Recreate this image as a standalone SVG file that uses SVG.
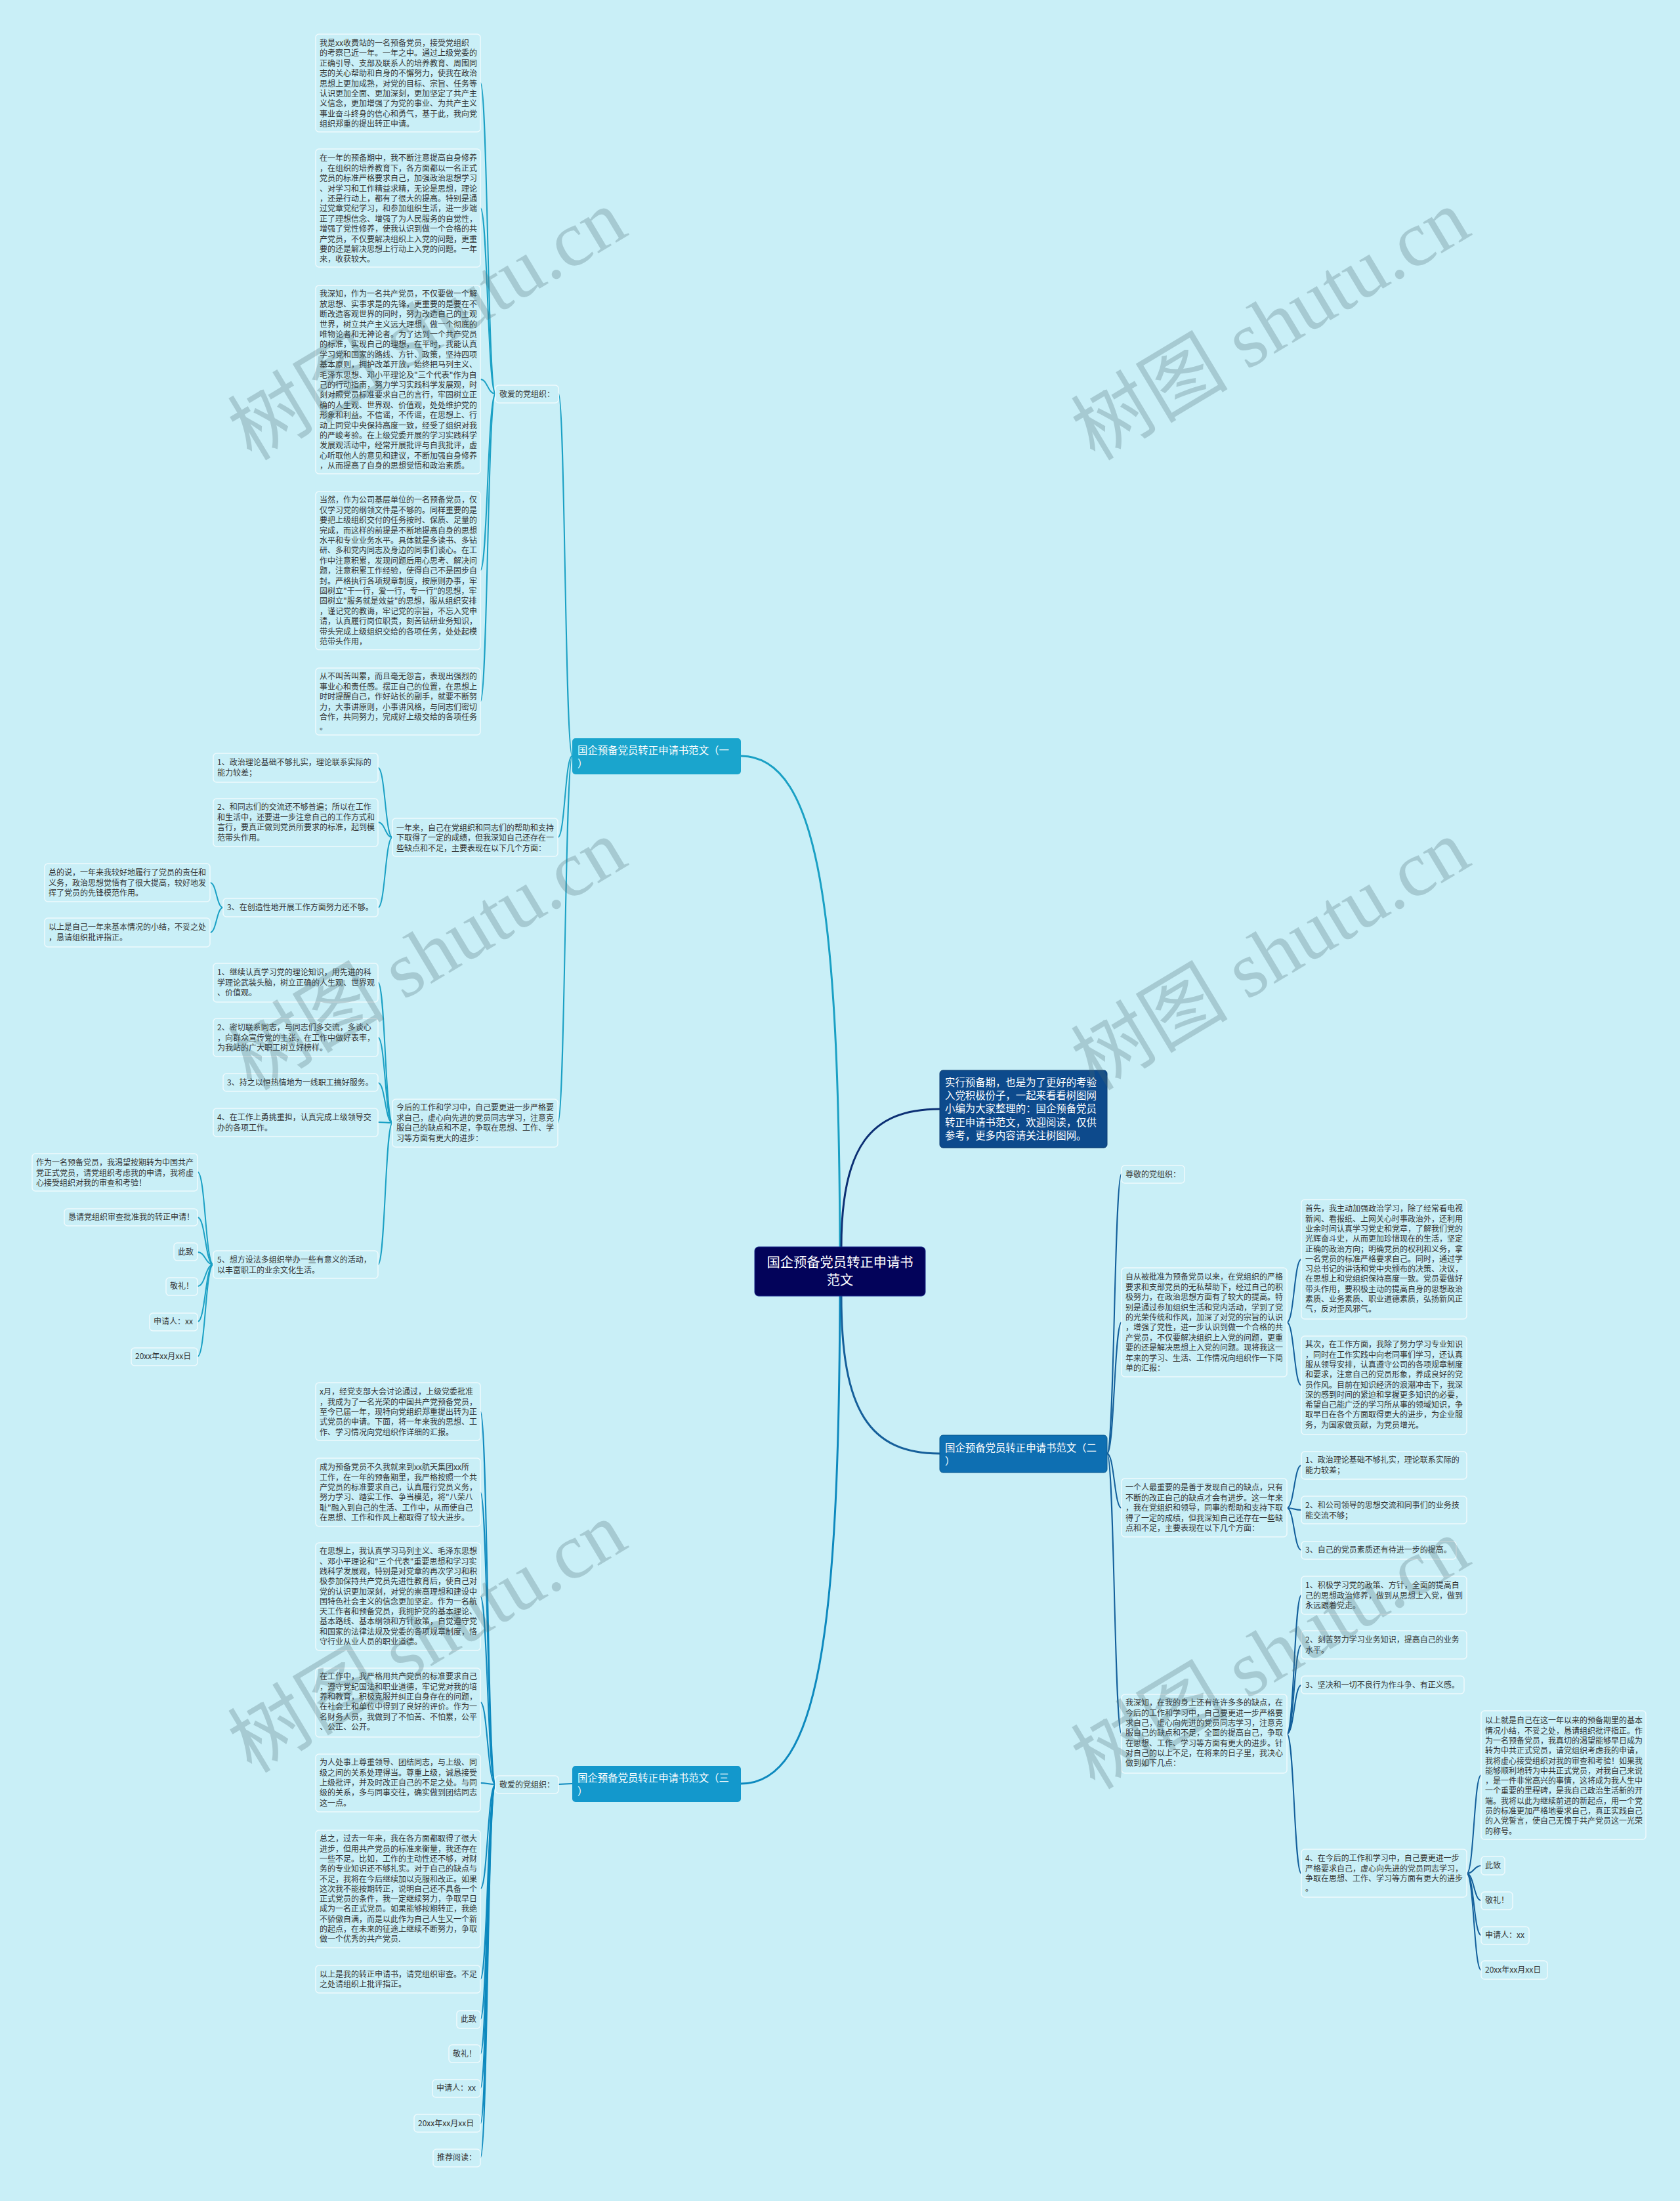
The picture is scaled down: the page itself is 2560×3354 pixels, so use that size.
<svg xmlns="http://www.w3.org/2000/svg" width="2560" height="3354" viewBox="0 0 2560 3354">
<style>
.bg{fill:#c9eff7}
.box{fill:#c9eff7;stroke:#eefafd;stroke-width:1.5}
.t{font-family:"Noto Sans CJK SC","Noto Sans",sans-serif;font-size:12px;fill:#333}
.tw{font-family:"Noto Sans CJK SC","Noto Sans",sans-serif;fill:#fff}
.c1{fill:none;stroke:#1aa0c4;stroke-width:2}
.c2{fill:none;stroke:#125f9b;stroke-width:2}
.c3{fill:none;stroke:#0d89be;stroke-width:2}
.m{fill:none;stroke-width:3}
.wm{font-family:"Liberation Serif","Noto Sans CJK SC",serif;font-size:120px;fill:#4a6a72;opacity:0.27}
</style>
<rect class="bg" x="0" y="0" width="2560" height="3354"/>

<g id="connectors">
<path class="m" stroke="#1aa0c4" d="M1280 1900 C1278 1400 1250 1152 1129 1152"/>
<path class="m" stroke="#0d89be" d="M1280 1975 C1278 2475 1250 2718 1129 2718"/>
<path class="m" stroke="#0c2f74" d="M1282 1900 C1282 1750 1325 1690 1432 1690"/>
<path class="m" stroke="#155f9a" d="M1282 1975 C1282 2150 1325 2215 1432 2215"/>
<path class="c1" d="M872 1152 C861 1152 861 600 851 600"/>
<path class="c1" d="M872 1152 C861 1152 861 1276 850 1276"/>
<path class="c1" d="M872 1152 C861 1152 861 1711 850 1711"/>
<path class="c1" d="M755 600 C743 600 743 126 732 126"/>
<path class="c1" d="M755 600 C743 600 743 317 732 317"/>
<path class="c1" d="M755 600 C743 600 743 578 732 578"/>
<path class="c1" d="M755 600 C743 600 743 869 732 869"/>
<path class="c1" d="M755 600 C743 600 743 1069 732 1069"/>
<path class="c1" d="M598 1276 C587 1276 587 1170 576 1170"/>
<path class="c1" d="M598 1276 C587 1276 587 1253 576 1253"/>
<path class="c1" d="M598 1276 C587 1276 587 1383 576 1383"/>
<path class="c1" d="M340 1383 C330 1383 330 1345 320 1345"/>
<path class="c1" d="M340 1383 C330 1383 330 1421 320 1421"/>
<path class="c1" d="M598 1711 C587 1711 587 1497 576 1497"/>
<path class="c1" d="M598 1711 C587 1711 587 1581 576 1581"/>
<path class="c1" d="M598 1711 C587 1711 587 1650 576 1650"/>
<path class="c1" d="M598 1711 C587 1711 587 1710 576 1710"/>
<path class="c1" d="M598 1711 C587 1711 587 1927 576 1927"/>
<path class="c1" d="M325 1927 C313 1927 313 1786 301 1786"/>
<path class="c1" d="M325 1927 C313 1927 313 1855 301 1855"/>
<path class="c1" d="M325 1927 C313 1927 313 1908 301 1908"/>
<path class="c1" d="M325 1927 C313 1927 313 1960 301 1960"/>
<path class="c1" d="M325 1927 C313 1927 313 2014 301 2014"/>
<path class="c1" d="M325 1927 C313 1927 313 2067 301 2067"/>
<path class="c3" d="M872 2718 C861 2718 861 2719 851 2719"/>
<path class="c3" d="M755 2719 C743 2719 743 2151 732 2151"/>
<path class="c3" d="M755 2719 C743 2719 743 2274 732 2274"/>
<path class="c3" d="M755 2719 C743 2719 743 2433 732 2433"/>
<path class="c3" d="M755 2719 C743 2719 743 2594 732 2594"/>
<path class="c3" d="M755 2719 C743 2719 743 2717 732 2717"/>
<path class="c3" d="M755 2719 C743 2719 743 2878 732 2878"/>
<path class="c3" d="M755 2719 C743 2719 743 3016 732 3016"/>
<path class="c3" d="M755 2719 C743 2719 743 3077 732 3077"/>
<path class="c3" d="M755 2719 C743 2719 743 3130 732 3130"/>
<path class="c3" d="M755 2719 C743 2719 743 3182 732 3182"/>
<path class="c3" d="M755 2719 C743 2719 743 3236 732 3236"/>
<path class="c3" d="M755 2719 C743 2719 743 3288 732 3288"/>
<path class="c2" d="M1687 2215 C1698 2215 1698 1789 1709 1789"/>
<path class="c2" d="M1687 2215 C1698 2215 1698 2015 1709 2015"/>
<path class="c2" d="M1687 2215 C1698 2215 1698 2298 1709 2298"/>
<path class="c2" d="M1687 2215 C1698 2215 1698 2642 1709 2642"/>
<path class="c2" d="M1961 2015 C1972 2015 1972 1919 1983 1919"/>
<path class="c2" d="M1961 2015 C1972 2015 1972 2111 1983 2111"/>
<path class="c2" d="M1961 2298 C1972 2298 1972 2233 1983 2233"/>
<path class="c2" d="M1961 2298 C1972 2298 1972 2301 1983 2301"/>
<path class="c2" d="M1961 2298 C1972 2298 1972 2362 1983 2362"/>
<path class="c2" d="M1961 2642 C1972 2642 1972 2431 1983 2431"/>
<path class="c2" d="M1961 2642 C1972 2642 1972 2507 1983 2507"/>
<path class="c2" d="M1961 2642 C1972 2642 1972 2568 1983 2568"/>
<path class="c2" d="M1961 2642 C1972 2642 1972 2855 1983 2855"/>
<path class="c2" d="M2235 2855 C2246 2855 2246 2705 2257 2705"/>
<path class="c2" d="M2235 2855 C2246 2855 2246 2843 2257 2843"/>
<path class="c2" d="M2235 2855 C2246 2855 2246 2896 2257 2896"/>
<path class="c2" d="M2235 2855 C2246 2855 2246 2949 2257 2949"/>
<path class="c2" d="M2235 2855 C2246 2855 2246 3002 2257 3002"/>
</g>

<g id="root">
<rect x="1150" y="1900" width="260" height="75" rx="6" fill="#03035a" stroke="#1a2a8a" stroke-width="1"/>
<text class="tw" font-size="20.3" text-anchor="middle"><tspan x="1280" y="1931">国企预备党员转正申请书</tspan><tspan x="1280" y="1958">范文</tspan></text>
</g>

<g id="intro">
<rect x="1432" y="1631" width="255" height="118" rx="5" fill="#0d4a8c" stroke="#0a3a70" stroke-width="1"/>
<text class="tw" font-size="15.4"><tspan x="1440" y="1654.5">实行预备期，也是为了更好的考验</tspan><tspan x="1440" dy="20.4">入党积极份子，一起来看看树图网</tspan><tspan x="1440" dy="20.4">小编为大家整理的：国企预备党员</tspan><tspan x="1440" dy="20.4">转正申请书范文，欢迎阅读，仅供</tspan><tspan x="1440" dy="20.4">参考，更多内容请关注树图网。</tspan></text>
</g>

<g id="n1">
<rect x="872" y="1125" width="257" height="55" rx="5" fill="#1aa5cd"/>
<text class="tw" font-size="15.4"><tspan x="880" y="1149">国企预备党员转正申请书范文（一</tspan><tspan x="880" y="1169">）</tspan></text>
</g>
<g id="n2">
<rect x="1432" y="2187" width="255" height="57" rx="5" fill="#0e6fb2" stroke="#0a5a90" stroke-width="1"/>
<text class="tw" font-size="15.4"><tspan x="1440" y="2211.5">国企预备党员转正申请书范文（二</tspan><tspan x="1440" y="2231.5">）</tspan></text>
</g>
<g id="n3">
<rect x="872" y="2691" width="257" height="55" rx="5" fill="#1398cc"/>
<text class="tw" font-size="15.4"><tspan x="880" y="2715">国企预备党员转正申请书范文（三</tspan><tspan x="880" y="2735">）</tspan></text>
</g>

<g id="b1-greet"><rect class="box" x="755" y="587" width="96" height="27" rx="5"/><text class="t" x="761" y="605">敬爱的党组织：</text></g>
<g id="b1-l1"><rect class="box" x="481" y="52" width="251" height="149" rx="5"/><text class="t"><tspan x="487" y="70">我是xx收费站的一名预备党员，接受党组织</tspan><tspan x="487" dy="15.4">的考察已近一年。一年之中。通过上级党委的</tspan><tspan x="487" dy="15.4">正确引导、支部及联系人的培养教育、周围同</tspan><tspan x="487" dy="15.4">志的关心帮助和自身的不懈努力，使我在政治</tspan><tspan x="487" dy="15.4">思想上更加成熟，对党的目标、宗旨、任务等</tspan><tspan x="487" dy="15.4">认识更加全面、更加深刻，更加坚定了共产主</tspan><tspan x="487" dy="15.4">义信念，更加增强了为党的事业、为共产主义</tspan><tspan x="487" dy="15.4">事业奋斗终身的信心和勇气，基于此，我向党</tspan><tspan x="487" dy="15.4">组织郑重的提出转正申请。</tspan></text></g>
<g id="b1-l2"><rect class="box" x="481" y="227" width="251" height="180" rx="5"/><text class="t"><tspan x="487" y="245.3">在一年的预备期中，我不断注意提高自身修养</tspan><tspan x="487" dy="15.4">，在组织的培养教育下，各方面都以一名正式</tspan><tspan x="487" dy="15.4">党员的标准严格要求自己，加强政治思想学习</tspan><tspan x="487" dy="15.4">、对学习和工作精益求精，无论是思想，理论</tspan><tspan x="487" dy="15.4">，还是行动上，都有了很大的提高。特别是通</tspan><tspan x="487" dy="15.4">过党章党纪学习，和参加组织生活，进一步端</tspan><tspan x="487" dy="15.4">正了理想信念、增强了为人民服务的自觉性，</tspan><tspan x="487" dy="15.4">增强了党性修养，使我认识到做一个合格的共</tspan><tspan x="487" dy="15.4">产党员，不仅要解决组织上入党的问题，更重</tspan><tspan x="487" dy="15.4">要的还是解决思想上行动上入党的问题。一年</tspan><tspan x="487" dy="15.4">来，收获较大。</tspan></text></g>
<g id="b1-l3"><rect class="box" x="481" y="435" width="251" height="287" rx="5"/><text class="t"><tspan x="487" y="452.3">我深知，作为一名共产党员，不仅要做一个解</tspan><tspan x="487" dy="15.4">放思想、实事求是的先锋，更重要的是要在不</tspan><tspan x="487" dy="15.4">断改造客观世界的同时，努力改造自己的主观</tspan><tspan x="487" dy="15.4">世界，树立共产主义远大理想，做一个彻底的</tspan><tspan x="487" dy="15.4">唯物论者和无神论者。为了达到一个共产党员</tspan><tspan x="487" dy="15.4">的标准，实现自己的理想，在平时，我能认真</tspan><tspan x="487" dy="15.4">学习党和国家的路线、方针、政策，坚持四项</tspan><tspan x="487" dy="15.4">基本原则，拥护改革开放，始终把马列主义、</tspan><tspan x="487" dy="15.4">毛泽东思想、邓小平理论及"三个代表"作为自</tspan><tspan x="487" dy="15.4">己的行动指南，努力学习实践科学发展观，时</tspan><tspan x="487" dy="15.4">刻对照党员标准要求自己的言行，牢固树立正</tspan><tspan x="487" dy="15.4">确的人生观、世界观、价值观，处处维护党的</tspan><tspan x="487" dy="15.4">形象和利益。不信谣，不传谣，在思想上、行</tspan><tspan x="487" dy="15.4">动上同党中央保持高度一致，经受了组织对我</tspan><tspan x="487" dy="15.4">的严峻考验。在上级党委开展的学习实践科学</tspan><tspan x="487" dy="15.4">发展观活动中，经常开展批评与自我批评，虚</tspan><tspan x="487" dy="15.4">心听取他人的意见和建议，不断加强自身修养</tspan><tspan x="487" dy="15.4">，从而提高了自身的思想觉悟和政治素质。</tspan></text></g>
<g id="b1-l4"><rect class="box" x="481" y="749" width="251" height="241" rx="5"/><text class="t"><tspan x="487" y="766.3">当然，作为公司基层单位的一名预备党员，仅</tspan><tspan x="487" dy="15.4">仅学习党的纲领文件是不够的。同样重要的是</tspan><tspan x="487" dy="15.4">要把上级组织交付的任务按时、保质、足量的</tspan><tspan x="487" dy="15.4">完成，而这样的前提是不断地提高自身的思想</tspan><tspan x="487" dy="15.4">水平和专业业务水平。具体就是多读书、多钻</tspan><tspan x="487" dy="15.4">研、多和党内同志及身边的同事们谈心。在工</tspan><tspan x="487" dy="15.4">作中注意积累，发现问题后用心思考、解决问</tspan><tspan x="487" dy="15.4">题，注意积累工作经验，使得自己不是固步自</tspan><tspan x="487" dy="15.4">封。严格执行各项规章制度，按原则办事，牢</tspan><tspan x="487" dy="15.4">固树立"干一行，爱一行，专一行"的思想，牢</tspan><tspan x="487" dy="15.4">固树立"服务就是效益"的思想，服从组织安排</tspan><tspan x="487" dy="15.4">，谨记党的教诲，牢记党的宗旨，不忘入党申</tspan><tspan x="487" dy="15.4">请，认真履行岗位职责，刻苦钻研业务知识，</tspan><tspan x="487" dy="15.4">带头完成上级组织交给的各项任务，处处起模</tspan><tspan x="487" dy="15.4">范带头作用，</tspan></text></g>
<g id="b1-l5"><rect class="box" x="481" y="1018" width="251" height="102" rx="5"/><text class="t"><tspan x="487" y="1035.3">从不叫苦叫累，而且毫无怨言，表现出强烈的</tspan><tspan x="487" dy="15.4">事业心和责任感。摆正自己的位置，在思想上</tspan><tspan x="487" dy="15.4">时时提醒自己，作好站长的副手，就要不断努</tspan><tspan x="487" dy="15.4">力，大事讲原则，小事讲风格，与同志们密切</tspan><tspan x="487" dy="15.4">合作，共同努力，完成好上级交给的各项任务</tspan><tspan x="487" dy="15.4">。</tspan></text></g>

<g id="b1-a"><rect class="box" x="598" y="1247" width="252" height="58" rx="5"/><text class="t"><tspan x="604" y="1265.8">一年来，自己在党组织和同志们的帮助和支持</tspan><tspan x="604" dy="15.4">下取得了一定的成绩，但我深知自己还存在一</tspan><tspan x="604" dy="15.4">些缺点和不足，主要表现在以下几个方面：</tspan></text></g>
<g id="b1-a1"><rect class="box" x="325" y="1148" width="251" height="44" rx="5"/><text class="t"><tspan x="331" y="1166.3">1、政治理论基础不够扎实，理论联系实际的</tspan><tspan x="331" dy="15.4">能力较差；</tspan></text></g>
<g id="b1-a2"><rect class="box" x="325" y="1217" width="251" height="73" rx="5"/><text class="t"><tspan x="331" y="1234.3">2、和同志们的交流还不够普遍；所以在工作</tspan><tspan x="331" dy="15.4">和生活中，还要进一步注意自己的工作方式和</tspan><tspan x="331" dy="15.4">言行，要真正做到党员所要求的标准，起到模</tspan><tspan x="331" dy="15.4">范带头作用。</tspan></text></g>
<g id="b1-a3"><rect class="box" x="340" y="1369" width="236" height="28" rx="5"/><text class="t" x="346" y="1387.3">3、在创造性地开展工作方面努力还不够。</text></g>
<g id="b1-a3a"><rect class="box" x="68" y="1316" width="252" height="58" rx="5"/><text class="t"><tspan x="74" y="1334.3">总的说，一年来我较好地履行了党员的责任和</tspan><tspan x="74" dy="15.4">义务，政治思想觉悟有了很大提高，较好地发</tspan><tspan x="74" dy="15.4">挥了党员的先锋模范作用。</tspan></text></g>
<g id="b1-a3b"><rect class="box" x="68" y="1399" width="252" height="44" rx="5"/><text class="t"><tspan x="74" y="1417.3">以上是自己一年来基本情况的小结，不妥之处</tspan><tspan x="74" dy="15.4">，恳请组织批评指正。</tspan></text></g>

<g id="b1-d"><rect class="box" x="598" y="1675" width="252" height="73" rx="5"/><text class="t"><tspan x="604" y="1692.3">今后的工作和学习中，自己要更进一步严格要</tspan><tspan x="604" dy="15.4">求自己，虚心向先进的党员同志学习，注意克</tspan><tspan x="604" dy="15.4">服自己的缺点和不足，争取在思想、工作、学</tspan><tspan x="604" dy="15.4">习等方面有更大的进步：</tspan></text></g>
<g id="b1-d1"><rect class="box" x="325" y="1468" width="251" height="59" rx="5"/><text class="t"><tspan x="331" y="1486.3">1、继续认真学习党的理论知识，用先进的科</tspan><tspan x="331" dy="15.4">学理论武装头脑，树立正确的人生观、世界观</tspan><tspan x="331" dy="15.4">、价值观。</tspan></text></g>
<g id="b1-d2"><rect class="box" x="325" y="1552" width="251" height="58" rx="5"/><text class="t"><tspan x="331" y="1570.3">2、密切联系同志，与同志们多交流，多谈心</tspan><tspan x="331" dy="15.4">，向群众宣传党的主张，在工作中做好表率，</tspan><tspan x="331" dy="15.4">为我站的广大职工树立好榜样。</tspan></text></g>
<g id="b1-d3"><rect class="box" x="340" y="1636" width="236" height="27" rx="5"/><text class="t" x="346" y="1654">3、持之以恒热情地为一线职工搞好服务。</text></g>
<g id="b1-d4"><rect class="box" x="325" y="1689" width="251" height="43" rx="5"/><text class="t"><tspan x="331" y="1707.3">4、在工作上勇挑重担，认真完成上级领导交</tspan><tspan x="331" dy="15.4">办的各项工作。</tspan></text></g>
<g id="b1-d5"><rect class="box" x="325" y="1906" width="251" height="42" rx="5"/><text class="t"><tspan x="331" y="1924.3">5、想方设法多组织举办一些有意义的活动，</tspan><tspan x="331" dy="15.4">以丰富职工的业余文化生活。</tspan></text></g>
<g id="b1-d5a"><rect class="box" x="49" y="1758" width="252" height="57" rx="5"/><text class="t"><tspan x="55" y="1776.3">作为一名预备党员，我渴望按期转为中国共产</tspan><tspan x="55" dy="15.4">党正式党员，请党组织考虑我的申请，我将虚</tspan><tspan x="55" dy="15.4">心接受组织对我的审查和考验！</tspan></text></g>
<g id="b1-d5b"><rect class="box" x="98" y="1842" width="203" height="26" rx="5"/><text class="t" x="104" y="1859.3">恳请党组织审查批准我的转正申请！</text></g>
<g id="b1-d5c"><rect class="box" x="265" y="1894" width="36" height="27" rx="5"/><text class="t" x="271" y="1912.3">此致</text></g>
<g id="b1-d5d"><rect class="box" x="253" y="1947" width="48" height="27" rx="5"/><text class="t" x="259" y="1964.3">敬礼！</text></g>
<g id="b1-d5e"><rect class="box" x="228" y="2001" width="73" height="27" rx="5"/><text class="t" x="234" y="2018.3">申请人：xx</text></g>
<g id="b1-d5f"><rect class="box" x="200" y="2054" width="101" height="27" rx="5"/><text class="t" x="206" y="2071.3">20xx年xx月xx日</text></g>

<g id="b3-greet"><rect class="box" x="755" y="2706" width="96" height="27" rx="5"/><text class="t" x="761" y="2724">敬爱的党组织：</text></g>
<g id="b3-m1"><rect class="box" x="481" y="2107" width="251" height="88" rx="5"/><text class="t"><tspan x="487" y="2125.3">x月，经党支部大会讨论通过，上级党委批准</tspan><tspan x="487" dy="15.3">，我成为了一名光荣的中国共产党预备党员，</tspan><tspan x="487" dy="15.3">至今已届一年，现特向党组织郑重提出转为正</tspan><tspan x="487" dy="15.3">式党员的申请。下面，将一年来我的思想、工</tspan><tspan x="487" dy="15.3">作、学习情况向党组织作详细的汇报。</tspan></text></g>
<g id="b3-m2"><rect class="box" x="481" y="2222" width="251" height="104" rx="5"/><text class="t"><tspan x="487" y="2240.3">成为预备党员不久我就来到xx航天集团xx所</tspan><tspan x="487" dy="15.3">工作，在一年的预备期里，我严格按照一个共</tspan><tspan x="487" dy="15.3">产党员的标准要求自己，认真履行党员义务，</tspan><tspan x="487" dy="15.3">努力学习、踏实工作、争当模范，将"八荣八</tspan><tspan x="487" dy="15.3">耻"融入到自己的生活、工作中，从而使自己</tspan><tspan x="487" dy="15.3">在思想、工作和作风上都取得了较大进步。</tspan></text></g>
<g id="b3-m3"><rect class="box" x="481" y="2351" width="251" height="164" rx="5"/><text class="t"><tspan x="487" y="2368.3">在思想上，我认真学习马列主义、毛泽东思想</tspan><tspan x="487" dy="15.3">、邓小平理论和"三个代表"重要思想和学习实</tspan><tspan x="487" dy="15.3">践科学发展观，特别是对党章的再次学习和积</tspan><tspan x="487" dy="15.3">极参加保持共产党员先进性教育后，使自己对</tspan><tspan x="487" dy="15.3">党的认识更加深刻，对党的崇高理想和建设中</tspan><tspan x="487" dy="15.3">国特色社会主义的信念更加坚定。作为一名航</tspan><tspan x="487" dy="15.3">天工作者和预备党员，我拥护党的基本理论、</tspan><tspan x="487" dy="15.3">基本路线、基本纲领和方针政策，自觉遵守党</tspan><tspan x="487" dy="15.3">和国家的法律法规及党委的各项规章制度，恪</tspan><tspan x="487" dy="15.3">守行业从业人员的职业道德。</tspan></text></g>
<g id="b3-m4"><rect class="box" x="481" y="2542" width="251" height="105" rx="5"/><text class="t"><tspan x="487" y="2559.3">在工作中，我严格用共产党员的标准要求自己</tspan><tspan x="487" dy="15.3">，遵守党纪国法和职业道德，牢记党对我的培</tspan><tspan x="487" dy="15.3">养和教育，积极克服并纠正自身存在的问题，</tspan><tspan x="487" dy="15.3">在社会上和单位中得到了良好的评价。作为一</tspan><tspan x="487" dy="15.3">名财务人员，我做到了不怕苦、不怕累，公平</tspan><tspan x="487" dy="15.3">、公正、公开。</tspan></text></g>
<g id="b3-m5"><rect class="box" x="481" y="2673" width="251" height="88" rx="5"/><text class="t"><tspan x="487" y="2690.3">为人处事上尊重领导、团结同志，与上级、同</tspan><tspan x="487" dy="15.3">级之间的关系处理得当。尊重上级，诚恳接受</tspan><tspan x="487" dy="15.3">上级批评，并及时改正自己的不足之处。与同</tspan><tspan x="487" dy="15.3">级的关系，多与同事交往，确实做到团结同志</tspan><tspan x="487" dy="15.3">这一点。</tspan></text></g>
<g id="b3-m6"><rect class="box" x="481" y="2789" width="251" height="179" rx="5"/><text class="t"><tspan x="487" y="2806.3">总之，过去一年来，我在各方面都取得了很大</tspan><tspan x="487" dy="15.3">进步，但用共产党员的标准来衡量，我还存在</tspan><tspan x="487" dy="15.3">一些不足。比如，工作的主动性还不够，对财</tspan><tspan x="487" dy="15.3">务的专业知识还不够扎实。对于自己的缺点与</tspan><tspan x="487" dy="15.3">不足，我将在今后继续加以克服和改正。如果</tspan><tspan x="487" dy="15.3">这次我不能按期转正，说明自己还不具备一个</tspan><tspan x="487" dy="15.3">正式党员的条件，我一定继续努力，争取早日</tspan><tspan x="487" dy="15.3">成为一名正式党员。如果能够按期转正，我绝</tspan><tspan x="487" dy="15.3">不骄傲自满，而是以此作为自己人生又一个新</tspan><tspan x="487" dy="15.3">的起点，在未来的征途上继续不断努力，争取</tspan><tspan x="487" dy="15.3">做一个优秀的共产党员.</tspan></text></g>
<g id="b3-m7"><rect class="box" x="481" y="2995" width="251" height="42" rx="5"/><text class="t"><tspan x="487" y="3012.6">以上是我的转正申请书，请党组织审查。不足</tspan><tspan x="487" dy="15.3">之处请组织上批评指正。</tspan></text></g>
<g id="b3-m8"><rect class="box" x="696" y="3064" width="36" height="27" rx="5"/><text class="t" x="702" y="3081.3">此致</text></g>
<g id="b3-m9"><rect class="box" x="684" y="3116" width="48" height="27" rx="5"/><text class="t" x="690" y="3134.3">敬礼！</text></g>
<g id="b3-m10"><rect class="box" x="659" y="3169" width="73" height="27" rx="5"/><text class="t" x="665" y="3186.3">申请人：xx</text></g>
<g id="b3-m11"><rect class="box" x="631" y="3222" width="101" height="27" rx="5"/><text class="t" x="637" y="3240.3">20xx年xx月xx日</text></g>
<g id="b3-m12"><rect class="box" x="660" y="3275" width="72" height="27" rx="5"/><text class="t" x="666" y="3292.3">推荐阅读：</text></g>

<g id="b2-greet"><rect class="box" x="1709" y="1776" width="96" height="27" rx="5"/><text class="t" x="1715" y="1794">尊敬的党组织：</text></g>
<g id="b2-r2"><rect class="box" x="1709" y="1932" width="252" height="166" rx="5"/><text class="t"><tspan x="1715" y="1950.3">自从被批准为预备党员以来，在党组织的严格</tspan><tspan x="1715" dy="15.4">要求和支部党员的无私帮助下，经过自己的积</tspan><tspan x="1715" dy="15.4">极努力，在政治思想方面有了较大的提高。特</tspan><tspan x="1715" dy="15.4">别是通过参加组织生活和党内活动，学到了党</tspan><tspan x="1715" dy="15.4">的光荣传统和作风，加深了对党的宗旨的认识</tspan><tspan x="1715" dy="15.4">，增强了党性，进一步认识到做一个合格的共</tspan><tspan x="1715" dy="15.4">产党员，不仅要解决组织上入党的问题，更重</tspan><tspan x="1715" dy="15.4">要的还是解决思想上入党的问题。现将我这一</tspan><tspan x="1715" dy="15.4">年来的学习、生活、工作情况向组织作一下简</tspan><tspan x="1715" dy="15.4">单的汇报：</tspan></text></g>
<g id="b2-r2a"><rect class="box" x="1983" y="1828" width="252" height="182" rx="5"/><text class="t"><tspan x="1989" y="1846.3">首先，我主动加强政治学习，除了经常看电视</tspan><tspan x="1989" dy="15.3">新闻、看报纸、上网关心时事政治外，还利用</tspan><tspan x="1989" dy="15.3">业余时间认真学习党史和党章，了解我们党的</tspan><tspan x="1989" dy="15.3">光辉奋斗史，从而更加珍惜现在的生活，坚定</tspan><tspan x="1989" dy="15.3">正确的政治方向；明确党员的权利和义务，拿</tspan><tspan x="1989" dy="15.3">一名党员的标准严格要求自己。同时，通过学</tspan><tspan x="1989" dy="15.3">习总书记的讲话和党中央颁布的决策、决议，</tspan><tspan x="1989" dy="15.3">在思想上和党组织保持高度一致。党员要做好</tspan><tspan x="1989" dy="15.3">带头作用，要积极主动的提高自身的思想政治</tspan><tspan x="1989" dy="15.3">素质、业务素质、职业道德素质，弘扬新风正</tspan><tspan x="1989" dy="15.3">气，反对歪风邪气。</tspan></text></g>
<g id="b2-r2b"><rect class="box" x="1983" y="2036" width="252" height="150" rx="5"/><text class="t"><tspan x="1989" y="2053.3">其次，在工作方面，我除了努力学习专业知识</tspan><tspan x="1989" dy="15.3">，同时在工作实践中向老同事们学习，还认真</tspan><tspan x="1989" dy="15.3">服从领导安排，认真遵守公司的各项规章制度</tspan><tspan x="1989" dy="15.3">和要求，注意自己的党员形象，养成良好的党</tspan><tspan x="1989" dy="15.3">员作风。目前在知识经济的浪潮冲击下，我深</tspan><tspan x="1989" dy="15.3">深的感到时间的紧迫和掌握更多知识的必要，</tspan><tspan x="1989" dy="15.3">希望自己能广泛的学习所从事的领域知识，争</tspan><tspan x="1989" dy="15.3">取早日在各个方面取得更大的进步，为企业服</tspan><tspan x="1989" dy="15.3">务，为国家做贡献，为党员增光。</tspan></text></g>
<g id="b2-r3"><rect class="box" x="1709" y="2253" width="252" height="89" rx="5"/><text class="t"><tspan x="1715" y="2271.3">一个人最重要的是善于发现自己的缺点，只有</tspan><tspan x="1715" dy="15.4">不断的改正自己的缺点才会有进步。这一年来</tspan><tspan x="1715" dy="15.4">，我在党组织和领导，同事的帮助和支持下取</tspan><tspan x="1715" dy="15.4">得了一定的成绩，但我深知自己还存在一些缺</tspan><tspan x="1715" dy="15.4">点和不足，主要表现在以下几个方面：</tspan></text></g>
<g id="b2-r3a"><rect class="box" x="1983" y="2212" width="252" height="42" rx="5"/><text class="t"><tspan x="1989" y="2229.3">1、政治理论基础不够扎实，理论联系实际的</tspan><tspan x="1989" dy="15.4">能力较差；</tspan></text></g>
<g id="b2-r3b"><rect class="box" x="1983" y="2280" width="252" height="42" rx="5"/><text class="t"><tspan x="1989" y="2298.3">2、和公司领导的思想交流和同事们的业务技</tspan><tspan x="1989" dy="15.4">能交流不够；</tspan></text></g>
<g id="b2-r3c"><rect class="box" x="1983" y="2349" width="236" height="27" rx="5"/><text class="t" x="1989" y="2366.3">3、自己的党员素质还有待进一步的提高。</text></g>
<g id="b2-r4"><rect class="box" x="1709" y="2582" width="252" height="120" rx="5"/><text class="t"><tspan x="1715" y="2599.3">我深知，在我的身上还有许许多多的缺点，在</tspan><tspan x="1715" dy="15.3">今后的工作和学习中，自己要更进一步严格要</tspan><tspan x="1715" dy="15.3">求自己，虚心向先进的党员同志学习，注意克</tspan><tspan x="1715" dy="15.3">服自己的缺点和不足，全面的提高自己，争取</tspan><tspan x="1715" dy="15.3">在思想、工作、学习等方面有更大的进步。针</tspan><tspan x="1715" dy="15.3">对自己的以上不足，在将来的日子里，我决心</tspan><tspan x="1715" dy="15.3">做到如下几点：</tspan></text></g>
<g id="b2-r4a"><rect class="box" x="1983" y="2402" width="252" height="58" rx="5"/><text class="t"><tspan x="1989" y="2420.3">1、积极学习党的政策、方针，全面的提高自</tspan><tspan x="1989" dy="15.3">己的思想政治修养，做到从思想上入党，做到</tspan><tspan x="1989" dy="15.3">永远跟着党走。</tspan></text></g>
<g id="b2-r4b"><rect class="box" x="1983" y="2485" width="252" height="43" rx="5"/><text class="t"><tspan x="1989" y="2503.3">2、刻苦努力学习业务知识，提高自己的业务</tspan><tspan x="1989" dy="15.3">水平。</tspan></text></g>
<g id="b2-r4c"><rect class="box" x="1983" y="2554" width="248" height="27" rx="5"/><text class="t" x="1989" y="2572.3">3、坚决和一切不良行为作斗争、有正义感。</text></g>
<g id="b2-r4d"><rect class="box" x="1983" y="2818" width="252" height="73" rx="5"/><text class="t"><tspan x="1989" y="2836.3">4、在今后的工作和学习中，自己要更进一步</tspan><tspan x="1989" dy="15.3">严格要求自己，虚心向先进的党员同志学习，</tspan><tspan x="1989" dy="15.3">争取在思想、工作、学习等方面有更大的进步</tspan><tspan x="1989" dy="15.3">。</tspan></text></g>
<g id="b2-r5a"><rect class="box" x="2257" y="2607" width="251" height="196" rx="5"/><text class="t"><tspan x="2263" y="2626.3">以上就是自己在这一年以来的预备期里的基本</tspan><tspan x="2263" dy="15.3">情况小结，不妥之处，恳请组织批评指正。作</tspan><tspan x="2263" dy="15.3">为一名预备党员，我真切的渴望能够早日成为</tspan><tspan x="2263" dy="15.3">转为中共正式党员，请党组织考虑我的申请，</tspan><tspan x="2263" dy="15.3">我将虚心接受组织对我的审查和考验！如果我</tspan><tspan x="2263" dy="15.3">能够顺利地转为中共正式党员，对我自己来说</tspan><tspan x="2263" dy="15.3">，是一件非常高兴的事情，这将成为我人生中</tspan><tspan x="2263" dy="15.3">一个重要的里程碑，是我自己政治生活新的开</tspan><tspan x="2263" dy="15.3">端。我将以此为继续前进的新起点，用一个党</tspan><tspan x="2263" dy="15.3">员的标准更加严格地要求自己，真正实践自己</tspan><tspan x="2263" dy="15.3">的入党誓言，使自己无愧于共产党员这一光荣</tspan><tspan x="2263" dy="15.3">的称号。</tspan></text></g>
<g id="b2-r5b"><rect class="box" x="2257" y="2829" width="36" height="28" rx="5"/><text class="t" x="2263" y="2847.3">此致</text></g>
<g id="b2-r5c"><rect class="box" x="2257" y="2883" width="48" height="27" rx="5"/><text class="t" x="2263" y="2900.3">敬礼！</text></g>
<g id="b2-r5d"><rect class="box" x="2257" y="2936" width="73" height="27" rx="5"/><text class="t" x="2263" y="2953.3">申请人：xx</text></g>
<g id="b2-r5e"><rect class="box" x="2257" y="2988" width="101" height="28" rx="5"/><text class="t" x="2263" y="3006.3">20xx年xx月xx日</text></g>

<g id="watermarks">
<text class="wm" text-anchor="middle" transform="translate(672,530) rotate(-31)">树图 shutu.cn</text>
<text class="wm" text-anchor="middle" transform="translate(1957,530) rotate(-31)">树图 shutu.cn</text>
<text class="wm" text-anchor="middle" transform="translate(672,1490) rotate(-31)">树图 shutu.cn</text>
<text class="wm" text-anchor="middle" transform="translate(1957,1490) rotate(-31)">树图 shutu.cn</text>
<text class="wm" text-anchor="middle" transform="translate(672,2530) rotate(-31)">树图 shutu.cn</text>
<text class="wm" text-anchor="middle" transform="translate(1957,2555) rotate(-31)">树图 shutu.cn</text>
</g>
</svg>
